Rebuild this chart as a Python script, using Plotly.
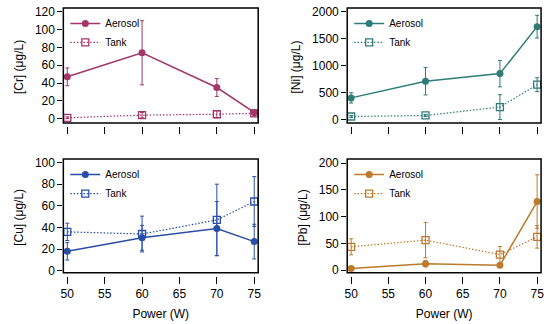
import plotly.graph_objects as go

power = [50, 60, 70, 75]

cr_aero = [47, 74, 35, 7]
cr_aero_err = [10, 36, 10, 3]
cr_tank = [1, 4, 5, 6]
cr_tank_err = [1, 3, 4, 3]

ni_aero = [400, 710, 850, 1720]
ni_aero_err = [95, 255, 245, 210]
ni_tank = [55, 75, 230, 645]
ni_tank_err = [20, 20, 230, 128]

cu_aero = [18, 30.5, 39, 27]
cu_aero_err = [8, 11.5, 25, 16]
cu_tank = [36, 34, 47, 64]
cu_tank_err = [8, 16.5, 33, 23]

pb_aero = [3, 12, 9, 128]
pb_aero_err = [2, 6, 3, 50]
pb_tank = [43.5, 56, 29, 62]
pb_tank_err = [15, 33, 15, 21]

x_ticks = [50, 55, 60, 65, 70, 75]

W, H = 550, 324
FONT = "Liberation Sans, Arial, sans-serif"

panels = [
    # name, aero, aero_err, tank, tank_err, color, x px, y px (top, bottom), yrange, ytick step, bottom row
    ("Cr", cr_aero, cr_aero_err, cr_tank, cr_tank_err, "#a3366a", (61, 258), (5, 125), [-8.3, 124.4], 20, False),
    ("Ni", ni_aero, ni_aero_err, ni_tank, ni_tank_err, "#2e7c78", (348, 544), (5, 125), [-122, 2067], 500, False),
    ("Cu", cu_aero, cu_aero_err, cu_tank, cu_tank_err, "#2a4ea8", (61, 258), (158.5, 277), [-4.5, 103.2], 20, True),
    ("Pb", pb_aero, pb_aero_err, pb_tank, pb_tank_err, "#bc7a2a", (348, 544), (158.5, 277), [-10.5, 207.4], 50, True),
]

fig = go.Figure()
layout = dict(
    width=W, height=H, margin=dict(l=0, r=0, t=0, b=0),
    paper_bgcolor="white", plot_bgcolor="white",
    font=dict(family=FONT, size=12, color="black"),
    shapes=[],
)

for i, (name, aero, aerr, tank, terr, col, xpx, ypx, yr, dy, bottom) in enumerate(panels):
    n = i + 1
    xa = "x" if n == 1 else f"x{n}"
    ya = "y" if n == 1 else f"y{n}"
    lg = "legend" if n == 1 else f"legend{n}"
    fig.add_trace(go.Scatter(
        x=power, y=aero, name="Aerosol", xaxis=xa, yaxis=ya, legend=lg,
        mode="lines+markers",
        line=dict(color=col, width=1.5),
        marker=dict(symbol="circle", size=7, color=col),
        error_y=dict(type="data", array=aerr, color=col, thickness=1, width=2),
    ))
    fig.add_trace(go.Scatter(
        x=power, y=tank, name="Tank", xaxis=xa, yaxis=ya, legend=lg,
        mode="lines+markers",
        line=dict(color=col, width=1.2, dash="1.5px,1.8px"),
        marker=dict(symbol="square-open", size=7, color=col, line=dict(width=1.3, color=col)),
        error_y=dict(type="data", array=terr, color=col, thickness=1, width=2),
    ))
    xkey = "xaxis" if n == 1 else f"xaxis{n}"
    ykey = "yaxis" if n == 1 else f"yaxis{n}"
    layout[xkey] = dict(
        domain=[xpx[0] / W, xpx[1] / W], anchor=ya, range=[49.47, 75.53],
        tickvals=x_ticks, showticklabels=bottom, ticks="outside", ticklen=7,
        tickwidth=1.2, tickcolor="black", showgrid=False, zeroline=False, showline=False,
        tickfont=dict(size=12),
        title=dict(text="Power (W)" if bottom else "", font=dict(size=12), standoff=9),
    )
    layout[ykey] = dict(
        domain=[1 - ypx[1] / H, 1 - ypx[0] / H], anchor=xa, range=yr,
        dtick=dy, tick0=0, ticks="outside", ticklen=5, tickwidth=1.2, tickcolor="black",
        showgrid=False, zeroline=False, showline=False, tickfont=dict(size=12),
        title=dict(text=f"[{name}] (μg/L)", font=dict(size=12), standoff=8),
    )
    frac = 3.0 / (ypx[1] - ypx[0])
    layout["shapes"].append(dict(
        type="rect", xref=f"{xa} domain", yref=f"{ya} domain",
        x0=0, x1=1, y0=frac, y1=1, line=dict(color="black", width=1.5), layer="above",
    ))
    layout[lg] = dict(
        x=(xpx[0] + 2) / W, y=1 - (ypx[0] + 1) / H, xanchor="left", yanchor="top",
        bgcolor="rgba(0,0,0,0)", font=dict(size=10, family=FONT), itemwidth=30,
        tracegroupgap=0,
    )

fig.update_layout(**layout)
fig.write_html(
    "out.html",
    config={"displayModeBar": False},
    post_script="document.body.style.margin='0';document.body.style.overflow='hidden';",
)
